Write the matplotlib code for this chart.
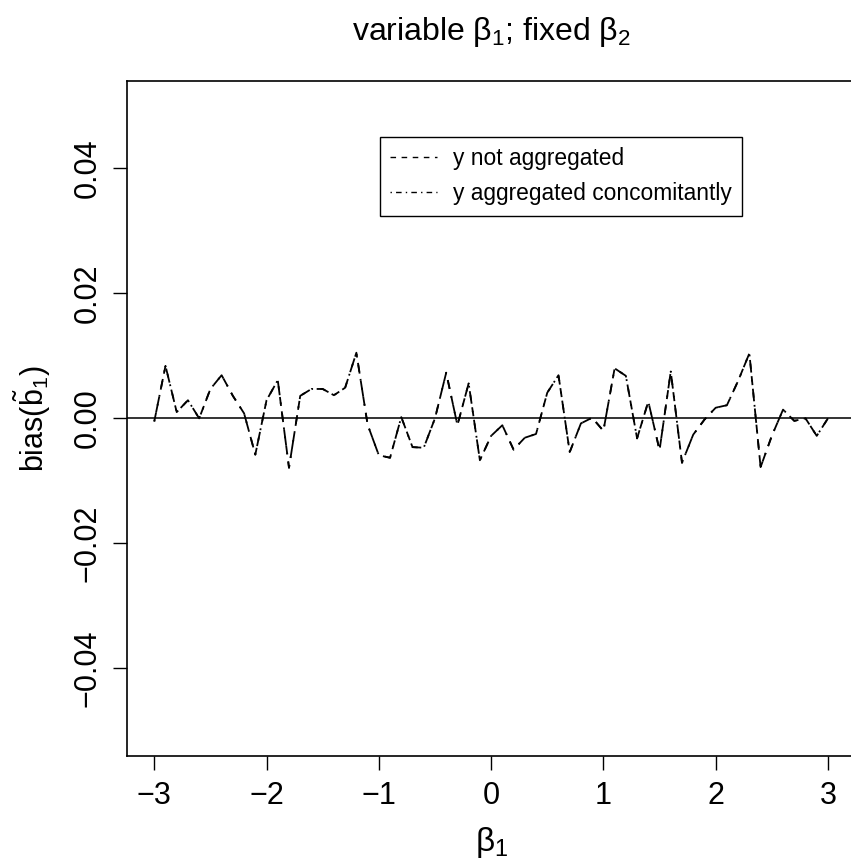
import matplotlib.pyplot as plt, numpy as np
from matplotlib.lines import Line2D

plt.rcParams['font.family'] = ['Liberation Sans', 'DejaVu Sans']
plt.rcParams['mathtext.fontset'] = 'custom'
plt.rcParams['mathtext.rm'] = 'Liberation Sans'
plt.rcParams['mathtext.it'] = 'Liberation Sans'

beta1 = np.round(np.arange(-3.0, 3.0001, 0.1), 1)
bias_not_agg = [
    -0.0005, 0.0084, 0.0010, 0.0029, 0.0000, 0.0047, 0.0069, 0.0036, 0.0008, -0.0058,
    0.0029, 0.0061, -0.0079, 0.0036, 0.0047, 0.0047, 0.0037, 0.0049, 0.0105, -0.0010,
    -0.0059, -0.0063, 0.0002, -0.0046, -0.0047, 0.0000, 0.0073, -0.0011, 0.0056, -0.0067,
    -0.0028, -0.0011, -0.0050, -0.0031, -0.0025, 0.0041, 0.0069, -0.0054, -0.0008, 0.0001,
    -0.0020, 0.0080, 0.0068, -0.0032, 0.0027, -0.0051, 0.0075, -0.0071, -0.0026, -0.0002,
    0.0017, 0.0021, 0.0060, 0.0104, -0.0078, -0.0028, 0.0014, -0.0004, 0.0000, -0.0028,
    0.0000]
# both series coincide in the picture
bias_concomitant = list(bias_not_agg)

labels = ['y not aggregated', 'y aggregated concomitantly']

fig = plt.figure(figsize=(8.51, 8.65), dpi=100)
ax = fig.add_axes([0.1496, 0.126, 0.855, 0.7807])

ax.axhline(0, color='#333333', lw=1.4, zorder=1)
ax.plot(beta1, bias_not_agg, color='black', lw=1.3, dashes=(5, 4), zorder=2)
ax.plot(beta1, bias_concomitant, color='black', lw=1.3, dashes=(1, 4, 5, 4), zorder=2)

ax.set_xlim(-3.24, 3.24)
ax.set_ylim(-0.054, 0.054)
ax.set_xticks([-3, -2, -1, 0, 1, 2, 3])
ax.set_xticklabels(['\u22123', '\u22122', '\u22121', '0', '1', '2', '3'])
ax.set_yticks([-0.04, -0.02, 0.0, 0.02, 0.04])
ax.set_yticklabels(['\u22120.04', '\u22120.02', '0.00', '0.02', '0.04'],
                   rotation=90, va='center')
ax.tick_params(labelsize=22, length=10, width=1, direction='out', pad=8)
for s in ax.spines.values():
    s.set_linewidth(1.2)

ax.set_xlabel(r'$\beta_1$', fontsize=24, labelpad=10)
ax.set_ylabel(r'bias($\tilde{\mathrm{b}}_1$)', fontsize=22, labelpad=14)
fig.text(0.577, 0.963, r'variable $\beta_1$; fixed $\beta_2$', fontsize=23,
         ha='center', va='center')

handles = [Line2D([], [], color='black', lw=1.0, dashes=(4, 4)),
           Line2D([], [], color='black', lw=1.0, dashes=(1, 3, 4, 3))]
leg = ax.legend(handles, labels, loc='upper left', bbox_to_anchor=(0.347, 0.9166),
                fontsize=16.4, frameon=True, fancybox=False, framealpha=1,
                edgecolor='black', handlelength=2.06, borderpad=0.45,
                borderaxespad=0, labelspacing=0.53, handletextpad=0.7)
leg.get_frame().set_linewidth(1.0)

fig.savefig('out.png', dpi=100)
